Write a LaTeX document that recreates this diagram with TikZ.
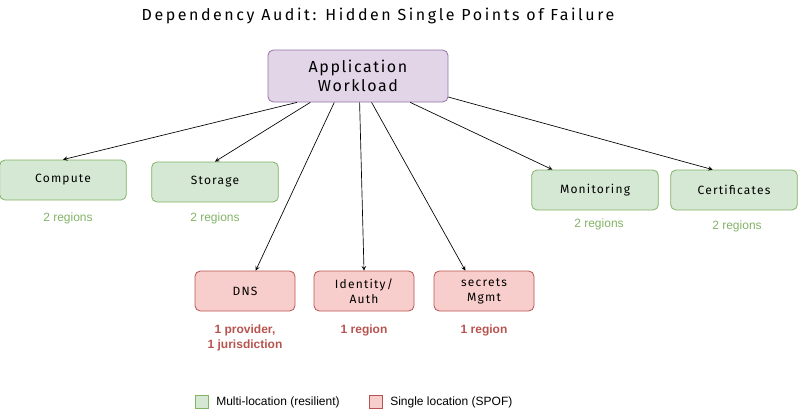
\documentclass[tikz,border=0pt]{standalone}
\usepackage{fontspec}
\setmainfont{Liberation Sans}
\newfontfamily\handfont[LetterSpace=10]{Fira Sans}
\newfontfamily\titlefont[LetterSpace=16]{Fira Sans}
\usetikzlibrary{positioning}
\definecolor{appfill}{HTML}{E1D5E7}
\definecolor{appline}{HTML}{9673A6}
\definecolor{okfill}{HTML}{D5E8D4}
\definecolor{okline}{HTML}{82B366}
\definecolor{badfill}{HTML}{F8CECC}
\definecolor{badline}{HTML}{B85450}
\tikzset{
  box/.style={draw, rounded corners=4pt, minimum width=95pt, minimum height=30pt, align=center, font=\handfont\small, line width=0.6pt},
  multi/.style={box, fill=okfill, draw=okline},
  single/.style={box, fill=badfill, draw=badline, minimum width=75pt},
  oknote/.style={text=okline, font=\small},
  badnote/.style={text=badline, font=\small\bfseries, align=center},
  dep/.style={->, >=stealth, line width=0.5pt}
}
\begin{document}
\begin{tikzpicture}[x=0.75pt, y=-0.75pt]
    \useasboundingbox (0,0) rectangle (798,414);

    % Title
    \node[font=\titlefont\large] (title) at (378,16) {Dependency Audit: Hidden Single Points of Failure};

    % Workload
    \node[box, fill=appfill, draw=appline, minimum width=135pt, minimum height=39pt, font=\handfont\large] (app) at (358,76) {Application\\Workload};

    % Multi-location services
    \node[multi] (compute) at (63,180) {Compute};
    \node[multi] (storage) at (215,182) {Storage};
    \node[multi] (monitor) at (595,190) {Monitoring};
    \node[multi] (certs) at (734,190) {Certificates};

    % Single-location services
    \node[single] (dns) at (245,291) {DNS};
    \node[single] (ident) at (364,291) {Identity/\\Auth};
    \node[single] (secret) at (484,291) {secrets\\Mgmt};

    % Notes
    \node[oknote] (computenote) at (68,218) {2 regions};
    \node[oknote] (storagenote) at (215,218) {2 regions};
    \node[oknote] (monitornote) at (599,224) {2 regions};
    \node[oknote] (certsnote) at (737,226) {2 regions};
    \node[badnote] (dnsnote) at (245,338) {1 provider,\\1 jurisdiction};
    \node[badnote] (identnote) at (364,330) {1 region};
    \node[badnote] (secretnote) at (484,330) {1 region};

    % Dependencies
    \draw[dep] ([xshift=22pt]app.south west) -- (compute.north);
    \draw[dep] ([xshift=32pt]app.south west) -- (storage.north);
    \draw[dep] ([xshift=50pt]app.south west) -- ([xshift=8pt]dns.north);
    \draw[dep] ([xshift=69pt]app.south west) -- (ident.north);
    \draw[dep] ([xshift=78pt]app.south west) -- ([xshift=-14pt]secret.north);
    \draw[dep] ([xshift=107pt]app.south west) -- ([xshift=-32pt]monitor.north);
    \draw[dep] ([yshift=4pt]app.south east) -- ([xshift=-16pt]certs.north);

    % Legend
    \node[draw=okline, fill=okfill, minimum size=10pt, inner sep=0pt] (legok) at (202,402) {};
    \node[right=2pt of legok, font=\small] (legoktext) {Multi-location (resilient)};
    \node[draw=badline, fill=badfill, minimum size=10pt, inner sep=0pt] (legbad) at (376,402) {};
    \node[right=2pt of legbad, font=\small] (legbadtext) {Single location (SPOF)};
\end{tikzpicture}
\end{document}
